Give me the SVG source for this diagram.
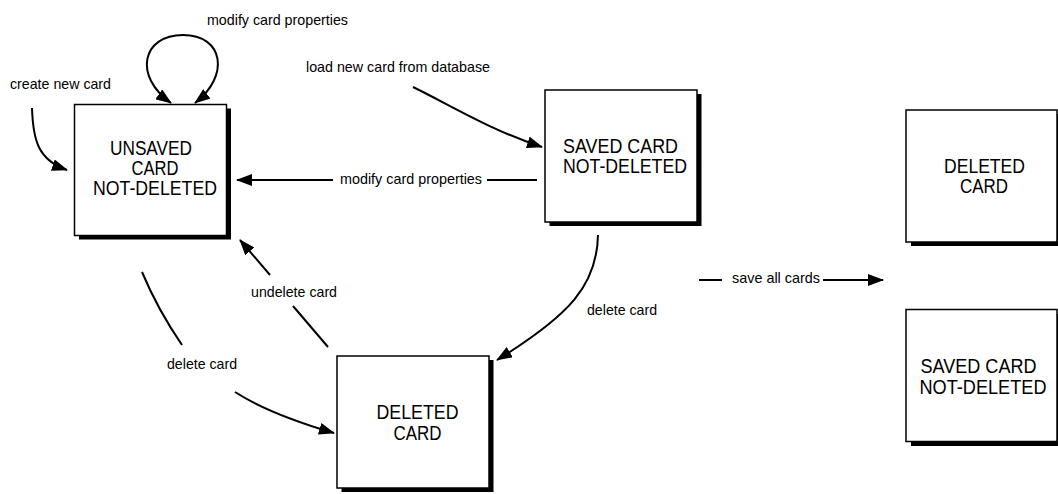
<svg xmlns="http://www.w3.org/2000/svg" width="1058" height="494" viewBox="0 0 1058 494">
<style>
  .bg{fill:#ffffff}
  .shadow{fill:#000000}
  .box{fill:#ffffff;stroke:#000000;stroke-width:1.5}
  .bt{font-family:"Liberation Sans",Arial,sans-serif;font-size:20px;fill:#000000;text-anchor:middle}
  .lb{font-family:"Liberation Sans",Arial,sans-serif;font-size:15px;fill:#000000}
  .ln{fill:none;stroke:#000000;stroke-width:2;stroke-linecap:butt}
  .arr{marker-end:url(#ah)}
</style>
<defs>
  <marker id="ah" markerWidth="16" markerHeight="12" refX="15" refY="6" orient="auto-start-reverse" markerUnits="userSpaceOnUse">
    <path d="M0,0 L16,6 L0,12 z" fill="#000000"/>
  </marker>
</defs>
<rect class="bg" x="0" y="0" width="1058" height="494"/>

<g id="connectors">
  <path class="ln" d="M 171,103 C 133,76 142,35 183,35 C 224,35 230,76 195,103" marker-start="url(#ah)" marker-end="url(#ah)"/>
  <path class="ln arr" d="M 32,108 C 33,140 38,160 67,170"/>
  <path class="ln arr" d="M 413,87 C 450,105 490,130 542,147"/>
  <path class="ln" d="M 537,180 L 487,180"/>
  <path class="ln arr" d="M 333,180 L 237,180"/>
  <path class="ln arr" d="M 598,235 C 597,285 570,315 497,360"/>
  <path class="ln" d="M 328,347 L 293,306"/>
  <path class="ln arr" d="M 270,275 L 240,240"/>
  <path class="ln" d="M 142,272 Q 158,310 182,345"/>
  <path class="ln arr" d="M 235,392 C 260,408 290,420 334,433"/>
  <path class="ln" d="M 699,280 L 722,280"/>
  <path class="ln arr" d="M 823,280 L 883,280"/>
</g>

<g id="labels">
  <text class="lb" x="207" y="25" textLength="141" lengthAdjust="spacingAndGlyphs">modify card properties</text>
  <text class="lb" x="10" y="89" textLength="101" lengthAdjust="spacingAndGlyphs">create new card</text>
  <text class="lb" x="306" y="72" textLength="184" lengthAdjust="spacingAndGlyphs">load new card from database</text>
  <text class="lb" x="340" y="184" textLength="142" lengthAdjust="spacingAndGlyphs">modify card properties</text>
  <text class="lb" x="251" y="297" textLength="86" lengthAdjust="spacingAndGlyphs">undelete card</text>
  <text class="lb" x="167" y="369" textLength="70" lengthAdjust="spacingAndGlyphs">delete card</text>
  <text class="lb" x="587" y="315" textLength="70" lengthAdjust="spacingAndGlyphs">delete card</text>
  <text class="lb" x="732" y="283" textLength="88" lengthAdjust="spacingAndGlyphs">save all cards</text>
</g>

<g id="unsaved-not-deleted">
  <rect class="shadow" x="79" y="108.5" width="152" height="131"/>
  <rect class="box" x="74.5" y="104.5" width="152" height="131"/>
  <text class="bt" x="151" y="155" textLength="82" lengthAdjust="spacingAndGlyphs">UNSAVED</text>
  <text class="bt" x="155" y="175" textLength="47" lengthAdjust="spacingAndGlyphs">CARD</text>
  <text class="bt" x="155" y="195" textLength="124" lengthAdjust="spacingAndGlyphs">NOT-DELETED</text>
</g>

<g id="saved-not-deleted">
  <rect class="shadow" x="549.5" y="94" width="152" height="132"/>
  <rect class="box" x="545" y="90" width="152" height="132"/>
  <text class="bt" x="620.5" y="153" textLength="115" lengthAdjust="spacingAndGlyphs">SAVED CARD</text>
  <text class="bt" x="625" y="173" textLength="124" lengthAdjust="spacingAndGlyphs">NOT-DELETED</text>
</g>

<g id="deleted">
  <rect class="shadow" x="341.5" y="360" width="152" height="132"/>
  <rect class="box" x="337" y="356" width="152" height="132"/>
  <text class="bt" x="417.5" y="419" textLength="82" lengthAdjust="spacingAndGlyphs">DELETED</text>
  <text class="bt" x="417.5" y="440" textLength="48" lengthAdjust="spacingAndGlyphs">CARD</text>
</g>

<g id="result-deleted">
  <rect class="shadow" x="911" y="114" width="151" height="132"/>
  <rect class="box" x="906" y="110" width="151" height="132"/>
  <text class="bt" x="984.5" y="173" textLength="81" lengthAdjust="spacingAndGlyphs">DELETED</text>
  <text class="bt" x="984" y="193" textLength="48" lengthAdjust="spacingAndGlyphs">CARD</text>
</g>

<g id="result-saved">
  <rect class="shadow" x="911" y="314" width="151" height="132"/>
  <rect class="box" x="906" y="309.5" width="151" height="132"/>
  <text class="bt" x="978.5" y="373" textLength="116" lengthAdjust="spacingAndGlyphs">SAVED CARD</text>
  <text class="bt" x="983" y="394" textLength="127" lengthAdjust="spacingAndGlyphs">NOT-DELETED</text>
</g>
</svg>
